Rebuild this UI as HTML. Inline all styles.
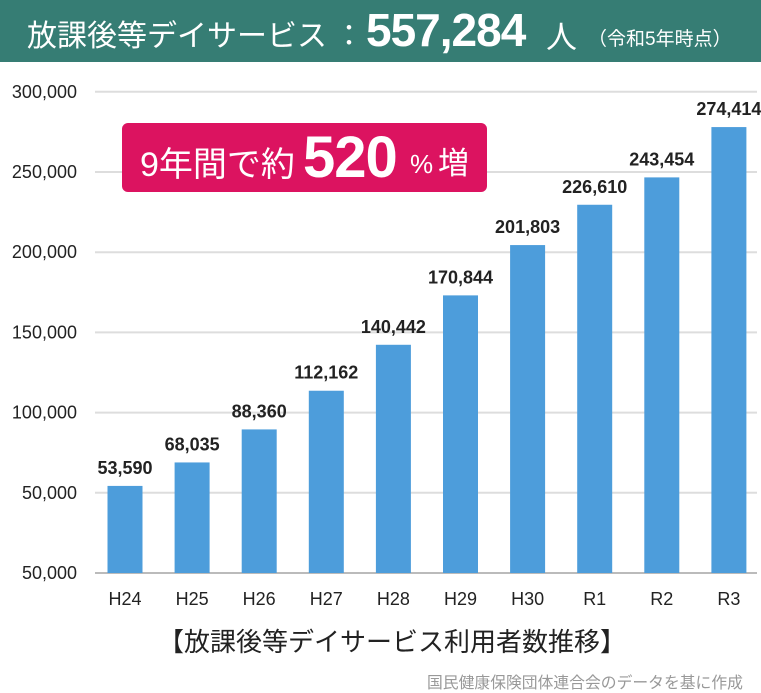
<!DOCTYPE html>
<html><head><meta charset="utf-8"><style>
body{margin:0;width:761px;height:689px;background:#fff;font-family:"Liberation Sans","Noto Sans CJK JP",sans-serif;overflow:hidden;position:relative}
#hdr{position:absolute;left:0;top:0;width:761px;height:62px;background:#367d74;color:#fff;white-space:nowrap}
#badge{position:absolute;left:122px;top:123px;width:365px;height:69px;background:#dc1360;border-radius:6px;color:#fff;white-space:nowrap}
</style></head><body>
<div id="hdr">
<span style="position:absolute;left:27px;top:11px;font-size:30px">放課後等デイサービス</span>
<span style="position:absolute;left:334px;top:11px;font-size:30px">：</span>
<span style="position:absolute;left:366px;top:3px;font-size:46px;font-weight:bold;letter-spacing:-1px">557,284</span>
<span style="position:absolute;left:546px;top:12px;font-size:31px">人</span>
<span style="position:absolute;left:588px;top:24px;font-size:19px">（令和5年時点）</span>
</div>
<svg id="chart" width="761" height="689" style="position:absolute;left:0;top:0"></svg>
<div id="badge">
<span style="position:absolute;left:18px;top:14px;font-size:34px">9年間で約</span>
<span style="position:absolute;left:181px;top:1px;font-size:58px;font-weight:bold;letter-spacing:-1px">520</span>
<span style="position:absolute;left:288px;top:26px;font-size:26px">%</span>
<span style="position:absolute;left:316px;top:15px;font-size:31px">増</span>
</div>
<div style="position:absolute;left:158px;width:466px;top:622px;text-align:center;font-size:26px;color:#222;white-space:nowrap">【放課後等デイサービス利用者数推移】</div>
<div style="position:absolute;left:427px;top:670px;font-size:15.8px;color:#999;white-space:nowrap">国民健康保険団体連合会のデータを基に作成</div>
<script>
const categories=["H24","H25","H26","H27","H28","H29","H30","R1","R2","R3"];
const values=[53590,68035,88360,112162,140442,170844,201803,226610,243454,274414];
const valueLabels=["53,590","68,035","88,360","112,162","140,442","170,844","201,803","226,610","243,454","274,414"];
const tickLabels=["50,000","50,000","100,000","150,000","200,000","250,000","300,000"];
const ticks=[0,50000,100000,150000,200000,250000,300000];
const NS="http://www.w3.org/2000/svg",svg=document.getElementById('chart');
const base=573;
function yGrid(v){return base-v/50000*80.2;}
function yBar(v){return base-v*0.001625;}
function xC(i){return 125+i*67.1;}
function mk(t,a,txt){const e=document.createElementNS(NS,t);for(const k in a)e.setAttribute(k,a[k]);if(txt!==undefined)e.textContent=txt;svg.appendChild(e);return e;}
ticks.forEach((v,i)=>{
 const l=mk('line',{x1:95,x2:757,y1:yGrid(v),y2:yGrid(v),stroke:i==0?'#bbb':'#ddd','stroke-width':2});
 
 
 const t=mk('text',{x:77,y:yGrid(v)+6,'text-anchor':'end','font-size':18,fill:'#222'},tickLabels[i]);
 
 
});
categories.forEach((c,i)=>{
 const y=yBar(values[i]);
 const r=mk('rect',{x:xC(i)-17.5,y:y,width:35,height:base-y,fill:'#4d9ddb'});
 
 
 const t=mk('text',{x:xC(i),y:y-12,'text-anchor':'middle','font-size':18,'font-weight':'bold',fill:'#222'},valueLabels[i]);
 
 
 const x=mk('text',{x:xC(i),y:605,'text-anchor':'middle','font-size':18,fill:'#222'},c);
 
 
});
</script>
</body></html>
